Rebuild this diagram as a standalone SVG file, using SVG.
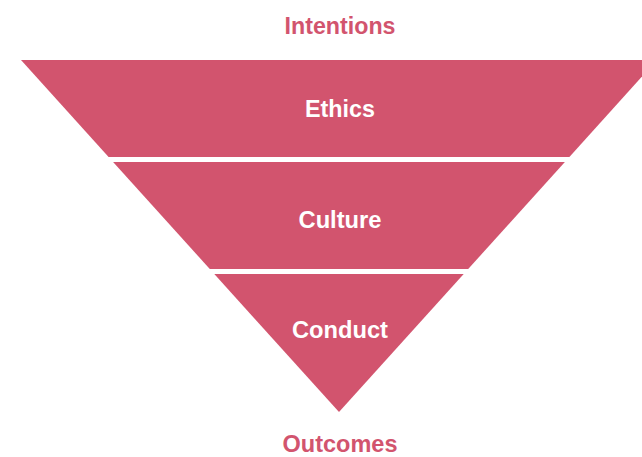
<svg xmlns="http://www.w3.org/2000/svg" width="642" height="457" viewBox="0 0 642 457">
<style>
.band{fill:#d2546e}
.lbl{font-family:"Liberation Sans","Arial",sans-serif;font-weight:bold;font-size:24px;text-anchor:middle}
.in{fill:#ffffff}
.out{fill:#d2546e}
</style>
<rect width="642" height="457" fill="#ffffff"/>
<g id="intentions"><text class="lbl out" x="340" y="34" textLength="111" lengthAdjust="spacingAndGlyphs">Intentions</text></g>
<g id="ethics"><polygon class="band" points="21,60 657,60 569.4,157 108.6,157"/><text class="lbl in" x="340" y="117" textLength="70" lengthAdjust="spacingAndGlyphs">Ethics</text></g>
<g id="culture"><polygon class="band" points="113.1,162 564.9,162 468.2,269 209.8,269"/><text class="lbl in" x="340" y="228" textLength="83" lengthAdjust="spacingAndGlyphs">Culture</text></g>
<g id="conduct"><polygon class="band" points="214.3,274 463.7,274 339,412"/><text class="lbl in" x="340" y="338" textLength="96" lengthAdjust="spacingAndGlyphs">Conduct</text></g>
<g id="outcomes"><text class="lbl out" x="340" y="452" textLength="115" lengthAdjust="spacingAndGlyphs">Outcomes</text></g>
<g id="connectors"></g>
</svg>
